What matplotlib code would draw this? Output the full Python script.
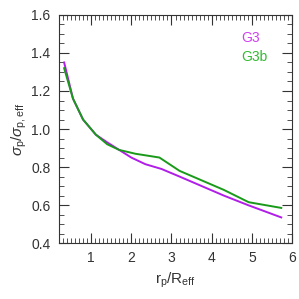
import matplotlib
matplotlib.use('Agg')
import matplotlib.pyplot as plt
from matplotlib.ticker import MultipleLocator

# Velocity dispersion profiles
g3_r = [0.33, 0.55, 0.8, 1.12, 1.4, 1.7, 2.0, 2.35, 2.75, 3.2, 3.75, 4.3, 4.9, 5.73]
g3_sig = [1.35, 1.16, 1.05, 0.97, 0.93, 0.89, 0.85, 0.815, 0.79, 0.75, 0.70, 0.65, 0.60, 0.535]
g3b_r = [0.33, 0.55, 0.8, 1.12, 1.4, 1.7, 2.1, 2.7, 3.2, 3.75, 4.3, 4.92, 5.73]
g3b_sig = [1.32, 1.16, 1.05, 0.97, 0.92, 0.89, 0.87, 0.85, 0.78, 0.73, 0.68, 0.615, 0.585]

LABELS = ['G3', 'G3b']
LINE_COLORS = ['#b01ee8', '#1a9a1a']
TEXT_COLORS = ['#d040f0', '#33bb33']

plt.rcParams['font.family'] = ['Liberation Sans', 'DejaVu Sans']
plt.rcParams['mathtext.fontset'] = 'custom'
plt.rcParams['mathtext.rm'] = 'Liberation Sans'
plt.rcParams['mathtext.it'] = 'Liberation Sans:italic'

fig = plt.figure(figsize=(2.99, 2.99), dpi=100)
ax = fig.add_axes([0.197, 0.187, 0.78, 0.763])

ax.plot(g3_r, g3_sig, color=LINE_COLORS[0], lw=1.4)
ax.plot(g3b_r, g3b_sig, color=LINE_COLORS[1], lw=1.4)

ax.set_xlim(0.2, 6)
ax.set_ylim(0.4, 1.6)
ax.xaxis.set_major_locator(MultipleLocator(1))
ax.xaxis.set_minor_locator(MultipleLocator(0.1))
ax.yaxis.set_major_locator(MultipleLocator(0.2))
ax.yaxis.set_minor_locator(MultipleLocator(0.05))
ax.yaxis.set_major_formatter(plt.FormatStrFormatter('%.1f'))
ax.tick_params(which='both', direction='in', top=True, right=True, colors='#333333', labelcolor='#333333', labelsize=10)
ax.tick_params(which='major', length=7, width=0.8, pad=6)
ax.tick_params(which='minor', length=3.5, width=0.6)
for s in ax.spines.values():
    s.set_color('#333333')
    s.set_linewidth(0.8)

ax.set_xlabel(r'$\mathrm{r_p/R_{eff}}$', fontsize=11, color='#333333', labelpad=4)
ax.set_ylabel(r'$\sigma_\mathrm{p}/\sigma_\mathrm{p,eff}$', fontsize=11, color='#333333', labelpad=2)

for i, lab in enumerate(LABELS):
    ax.text(0.78, 0.9 - i * 0.085, lab, transform=ax.transAxes, color=TEXT_COLORS[i], fontsize=10, va='center', ha='left')

fig.savefig('out.png', dpi=100)
